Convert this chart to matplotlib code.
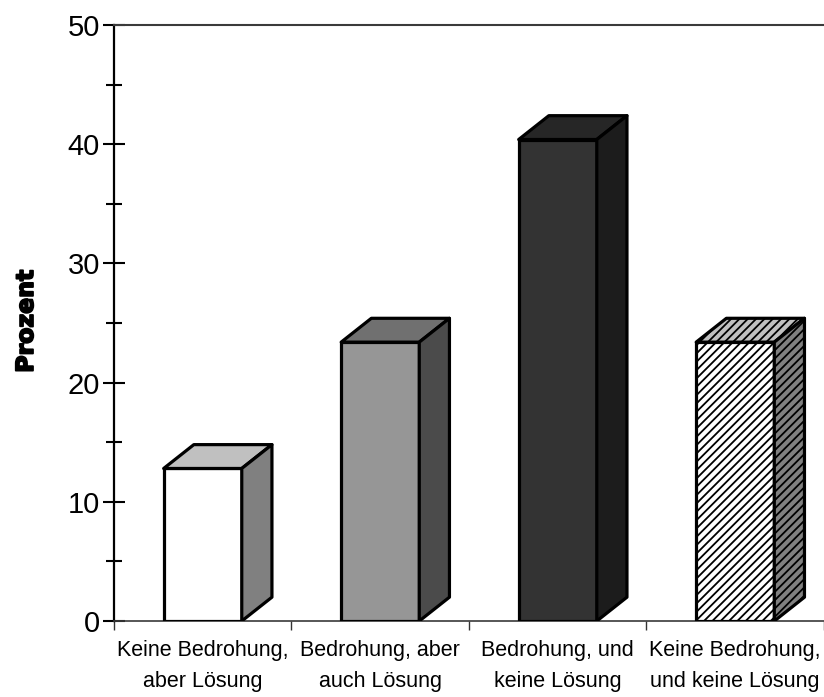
import matplotlib.pyplot as plt
import matplotlib.patheffects as pe
from matplotlib.patches import Polygon

plt.rcParams['font.family'] = ['Liberation Sans', 'DejaVu Sans']
plt.rcParams['hatch.linewidth'] = 1.3

categories = ["Keine Bedrohung,\naber Lösung", "Bedrohung, aber\nauch Lösung",
              "Bedrohung, und\nkeine Lösung", "Keine Bedrohung,\nund keine Lösung"]
values = [12.8, 23.4, 40.4, 23.4]

# front / top / side shades for each bar
front_colors = ["#ffffff", "#969696", "#333333", "#ffffff"]
top_colors = ["#c0c0c0", "#707070", "#262626", "#c0c0c0"]
side_colors = ["#808080", "#4b4b4b", "#1c1c1c", "#808080"]
hatches = [None, None, None, "////"]

bar_w = 0.44
dx, dy = 0.17, 2.0   # depth offset of the 3d boxes

fig = plt.figure(figsize=(8.24, 6.97), dpi=100)
ax = fig.add_axes([0.1383, 0.109, 0.8617, 0.855])

for i, v in enumerate(values):
    xl = i + 0.5 - bar_w / 2
    xr = i + 0.5 + bar_w / 2
    faces = [
        ([(xl, 0), (xr, 0), (xr, v), (xl, v)], front_colors[i]),
        ([(xl, v), (xl + dx, v + dy), (xr + dx, v + dy), (xr, v)], top_colors[i]),
        ([(xr, 0), (xr + dx, dy), (xr + dx, v + dy), (xr, v)], side_colors[i]),
    ]
    for pts, col in faces:
        p = Polygon(pts, closed=True, facecolor=col, edgecolor='black',
                    linewidth=2.3, joinstyle='round', hatch=hatches[i], zorder=3)
        ax.add_patch(p)

ax.set_xlim(0, 4)
ax.set_ylim(0, 50)

ax.set_yticks(range(0, 51, 10))
ax.set_yticks(range(5, 50, 10), minor=True)
ax.tick_params(axis='y', which='major', direction='inout', length=16, width=1.5,
               labelsize=21, pad=2)
ax.tick_params(axis='y', which='minor', direction='inout', length=11, width=1.5)

ax.set_xticks([0, 1, 2, 3, 4])
ax.set_xticklabels([])
ax.set_xticks([0.5, 1.5, 2.5, 3.5], minor=True)
ax.set_xticklabels(categories, minor=True, fontsize=15.5, linespacing=1.6)
ax.tick_params(axis='x', which='major', direction='out', length=6.5, width=1.0,
               color='#333333')
ax.tick_params(axis='x', which='minor', length=0, pad=14)

ax.spines['right'].set_visible(False)
ax.spines['left'].set_linewidth(1.6)
ax.spines['left'].set_color('black')
ax.spines['top'].set_linewidth(1.5)
ax.spines['top'].set_color('#3a3a3a')
ax.spines['bottom'].set_linewidth(1.2)
ax.spines['bottom'].set_color('#3a3a3a')

ylab = ax.set_ylabel("Prozent", fontsize=17, fontweight='heavy', family='DejaVu Sans')
ylab.set_path_effects([pe.withStroke(linewidth=1.3, foreground='black')])
ax.yaxis.set_label_coords(-0.107, 0.503)

fig.savefig("out.png", dpi=100)
